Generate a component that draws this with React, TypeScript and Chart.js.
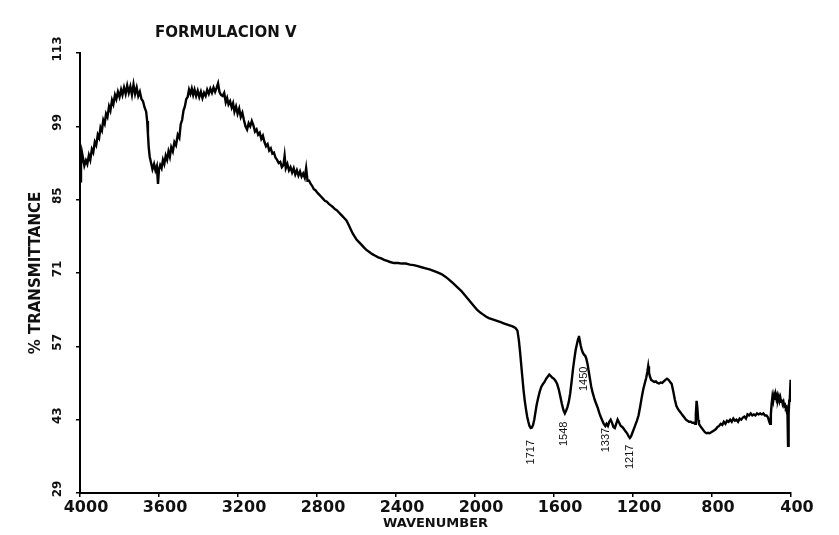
import React, { useEffect, useRef } from "react";
import { Chart, registerables } from "chart.js";

Chart.register(...registerables);

const chartTitle = "FORMULACION V";
const xAxisTitle = "WAVENUMBER";
const yAxisTitle = "% TRANSMITTANCE";

const xTickValues = [4000, 3600, 3200, 2800, 2400, 2000, 1600, 1200, 800, 400];
const yTickValues = [29, 43, 57, 71, 85, 99, 113];

const wavenumbers = [
  4000, 3995, 3990, 3985, 3978, 3970, 3963, 3955, 3948, 3940, 3933, 3925, 3918, 3910, 3903, 3896, 3889, 3882, 3875, 3868,
  3861, 3853, 3846, 3838, 3831, 3823, 3816, 3808, 3800, 3792, 3785, 3777, 3769, 3761, 3753, 3745, 3737, 3729, 3721, 3713,
  3705, 3697, 3689, 3681, 3673, 3665, 3660, 3656, 3652, 3647, 3640, 3633, 3625, 3618, 3611, 3605, 3600, 3594, 3587, 3580,
  3573, 3566, 3559, 3552, 3545, 3538, 3530, 3522, 3514, 3505, 3497, 3490, 3483, 3476, 3469, 3462, 3455, 3448, 3441, 3434,
  3427, 3420, 3412, 3404, 3396, 3388, 3380, 3372, 3364, 3356, 3348, 3340, 3332, 3324, 3316, 3308, 3301, 3294, 3286, 3278,
  3270, 3262, 3255, 3248, 3240, 3232, 3225, 3218, 3210, 3202, 3194, 3186, 3178, 3170, 3162, 3154, 3146, 3138, 3130, 3122,
  3114, 3106, 3098, 3090, 3082, 3074, 3066, 3058, 3050, 3042, 3034, 3026, 3018, 3010, 3002, 2994, 2986, 2978, 2970, 2964,
  2958, 2950, 2942, 2934, 2926, 2918, 2910, 2902, 2894, 2886, 2878, 2870, 2862, 2855, 2848, 2840, 2832, 2824, 2816, 2808,
  2800, 2790, 2780, 2770, 2760, 2750, 2740, 2730, 2720, 2710, 2700, 2690, 2680, 2670, 2660, 2650, 2640, 2630, 2620, 2610,
  2600, 2590, 2580, 2565, 2550, 2535, 2520, 2505, 2490, 2475, 2460, 2445, 2430, 2410, 2390, 2370, 2350, 2330, 2310, 2290,
  2270, 2250, 2230, 2210, 2190, 2170, 2150, 2130, 2110, 2090, 2070, 2050, 2030, 2010, 1990, 1975, 1960, 1945, 1930, 1915,
  1900, 1885, 1870, 1855, 1840, 1825, 1810, 1795, 1785, 1778, 1772, 1766, 1760, 1754, 1748, 1742, 1736, 1730, 1724, 1718,
  1712, 1706, 1700, 1694, 1688, 1680, 1672, 1664, 1656, 1648, 1640, 1632, 1624, 1616, 1608, 1600, 1592, 1584, 1576, 1568,
  1560, 1552, 1545, 1538, 1532, 1525, 1518, 1511, 1504, 1497, 1490, 1484, 1478, 1474, 1470, 1465, 1460, 1454, 1448, 1442,
  1436, 1430, 1424, 1418, 1412, 1406, 1400, 1394, 1386, 1378, 1370, 1362, 1355, 1348, 1340, 1334, 1327, 1320, 1313, 1306,
  1299, 1292, 1285, 1278, 1270, 1262, 1254, 1246, 1238, 1230, 1222, 1216, 1210, 1204, 1196, 1188, 1180, 1172, 1164, 1156,
  1148, 1140, 1133, 1127, 1123, 1119, 1114, 1108, 1100, 1092, 1084, 1076, 1068, 1060, 1052, 1044, 1036, 1028, 1020, 1012,
  1004, 996, 988, 980, 972, 964, 956, 948, 940, 932, 924, 916, 908, 900, 892, 886, 882, 878, 874, 870,
  866, 860, 852, 844, 836, 828, 820, 812, 804, 796, 788, 780, 772, 764, 756, 748, 740, 732, 724, 716,
  708, 700, 692, 684, 676, 668, 660, 652, 644, 636, 628, 620, 612, 604, 596, 588, 580, 572, 564, 556,
  548, 540, 532, 524, 516, 510, 506, 502, 498, 494, 490, 486, 482, 478, 474, 470, 466, 462, 458, 454,
  450, 446, 442, 438, 434, 430, 426, 422, 418, 415, 412, 409, 406, 402,
];

const transmittance = [
  88.5, 91.5, 94.0, 93.0, 91.5, 92.5, 91.8, 93.5, 92.6, 94.6, 94.0, 96.0, 95.4, 97.4, 96.8, 98.8, 98.2, 100.2, 99.5, 101.4,
  100.8, 102.8, 102.0, 104.0, 103.2, 105.0, 104.2, 105.6, 104.6, 106.0, 105.0, 106.4, 105.2, 106.8, 105.4, 106.6, 105.0, 107.0, 105.2, 106.4,
  104.8, 105.6, 104.2, 103.8, 102.6, 101.8, 100.0, 97.5, 95.0, 93.2, 92.0, 90.8, 91.8, 90.6, 91.4, 88.0, 90.8, 91.6, 91.0, 92.6,
  91.8, 93.4, 92.6, 94.2, 93.2, 95.0, 94.2, 96.0, 95.4, 97.4, 96.8, 99.4, 100.2, 102.0, 102.8, 104.2, 104.6, 106.0, 105.2, 106.2,
  105.0, 106.0, 104.8, 105.8, 104.6, 105.6, 104.4, 105.4, 104.8, 106.0, 105.2, 106.2, 105.4, 106.4, 105.6, 106.4, 107.2, 105.6, 105.0, 104.8,
  105.4, 103.6, 104.4, 103.2, 103.8, 102.6, 103.4, 101.8, 102.8, 101.4, 102.4, 100.8, 101.6, 100.2, 99.0, 98.4, 99.6, 99.0, 100.0, 99.2,
  98.0, 98.4, 97.4, 97.8, 96.6, 97.2, 96.0, 95.2, 95.6, 94.4, 94.8, 93.8, 94.0, 93.0, 92.6, 92.0, 92.2, 91.2, 91.6, 93.4,
  91.0, 91.8, 90.6, 91.2, 90.2, 91.0, 89.8, 90.6, 89.6, 90.4, 89.4, 90.0, 89.2, 91.0, 88.6, 88.6, 88.0, 87.6, 87.0, 86.8,
  86.4, 86.0, 85.6, 85.2, 84.8, 84.6, 84.2, 83.9, 83.6, 83.2, 83.0, 82.6, 82.2, 81.8, 81.4, 81.0, 80.2, 79.4, 78.6, 78.0,
  77.4, 77.0, 76.6, 76.0, 75.4, 75.0, 74.6, 74.3, 74.0, 73.8, 73.5, 73.3, 73.1, 72.9, 72.9, 72.8, 72.8, 72.6, 72.5, 72.3,
  72.1, 71.9, 71.7, 71.4, 71.1, 70.8, 70.3, 69.7, 69.0, 68.3, 67.6, 66.7, 65.8, 64.9, 64.0, 63.5, 63.1, 62.7, 62.4, 62.2,
  62.0, 61.8, 61.6, 61.4, 61.2, 61.0, 60.8, 60.5, 60.0, 58.2, 56.0, 53.5, 51.0, 48.6, 46.6, 45.0, 43.6, 42.6, 41.8, 41.4,
  41.5, 42.0, 43.0, 44.4, 45.8, 47.2, 48.4, 49.3, 49.8, 50.2, 50.8, 51.2, 51.6, 51.3, 51.0, 50.8, 50.4, 49.8, 48.8, 47.4,
  46.0, 44.8, 44.2, 44.8, 45.4, 46.4, 48.0, 50.2, 52.6, 54.6, 56.4, 57.4, 58.4, 59.0, 58.2, 57.2, 56.4, 55.8, 55.4, 55.2,
  54.6, 53.6, 52.2, 50.8, 49.4, 48.4, 47.6, 46.8, 46.0, 45.2, 44.2, 43.4, 42.8, 42.2, 41.8, 42.2, 41.8, 42.6, 43.0, 42.4,
  41.6, 41.4, 42.2, 43.0, 42.4, 41.8, 41.6, 41.2, 40.8, 40.4, 39.8, 39.5, 39.8, 40.4, 41.2, 42.0, 42.8, 43.8, 45.4, 47.2,
  48.8, 50.0, 51.0, 52.2, 53.2, 52.0, 51.2, 50.6, 50.4, 50.2, 50.3, 50.0, 49.9, 50.1, 50.0, 50.3, 50.6, 50.8, 50.6, 50.2,
  49.8, 48.4, 46.8, 45.6, 45.0, 44.6, 44.2, 43.8, 43.4, 43.0, 42.8, 42.6, 42.6, 42.4, 42.4, 42.2, 44.0, 46.6, 45.2, 43.0,
  42.2, 41.8, 41.4, 41.0, 40.6, 40.4, 40.5, 40.4, 40.6, 40.8, 41.0, 41.2, 41.6, 41.8, 42.2, 42.0, 42.6, 42.2, 42.8, 42.6,
  43.0, 42.6, 43.2, 42.8, 43.0, 42.6, 43.2, 43.0, 43.4, 43.6, 43.2, 44.0, 43.8, 44.2, 43.8, 44.0, 43.8, 44.2, 44.0, 44.2,
  44.0, 44.2, 43.8, 43.8, 43.4, 42.6, 42.2, 44.0, 46.0, 47.4, 46.6, 47.6, 46.8, 47.8, 47.0, 47.6, 46.8, 47.4, 46.6, 47.2,
  46.4, 46.8, 46.0, 46.4, 45.6, 45.8, 45.2, 45.4, 44.6, 38.0, 44.0, 46.6, 47.0, 50.6,
];

const peakLabels = ["1717", "1548", "1450", "1337", "1217"];
const peakLabelWavenumbers = [1717, 1548, 1450, 1337, 1217];
const peakLabelLevels = [36.8, 40.3, 50.8, 39.1, 35.9];

const boldFont = "'DejaVu Sans', sans-serif";

const overlayPlugin = {
  id: "overlayText",
  afterDraw(chart: any) {
    const ctx = chart.ctx;
    const xs = chart.scales.x;
    const ys = chart.scales.y;
    ctx.save();
    ctx.fillStyle = "#111";
    ctx.font = `bold 15px ${boldFont}`;
    ctx.textAlign = "left";
    ctx.textBaseline = "middle";
    ctx.fillText(chartTitle, 155, 33);

    ctx.font = "11px 'Liberation Sans', sans-serif";
    ctx.textAlign = "center";
    ctx.textBaseline = "middle";
    peakLabels.forEach((lab, i) => {
      const px = xs.getPixelForValue(peakLabelWavenumbers[i]);
      const py = ys.getPixelForValue(peakLabelLevels[i]);
      ctx.save();
      ctx.translate(px, py);
      ctx.rotate(-Math.PI / 2);
      ctx.fillText(lab, 0, 0);
      ctx.restore();
    });
    ctx.restore();
  },
};

export default function App() {
  const ref = useRef<HTMLCanvasElement | null>(null);

  useEffect(() => {
    if (!ref.current) return;
    const points = wavenumbers.map((w, i) => ({ x: w, y: transmittance[i] }));
    const chart = new Chart(ref.current, {
      type: "line",
      data: {
        datasets: [
          {
            data: points,
            borderColor: "#000",
            borderWidth: 2.4,
            pointRadius: 0,
            tension: 0,
            fill: false,
          },
        ],
      },
      options: {
        animation: false,
        responsive: false,
        devicePixelRatio: 1,
        layout: { padding: { top: 53, right: 48, left: 0, bottom: 0 } },
        plugins: {
          legend: { display: false },
          tooltip: { enabled: false },
          title: { display: false },
        },
        scales: {
          x: {
            type: "linear",
            reverse: true,
            min: 400,
            max: 4000,
            afterBuildTicks: (scale: any) => {
              scale.ticks = xTickValues.map((v) => ({ value: v }));
            },
            afterFit: (scale: any) => {
              scale.height = 42;
            },
            border: { display: true, color: "#000", width: 2 },
            grid: { display: true, drawOnChartArea: false, drawTicks: true, tickLength: 4, color: "#000", lineWidth: 1.5 },
            ticks: {
              color: "#111",
              font: { family: boldFont, weight: "bold", size: 16 },
              padding: 1,
              labelOffset: 6,
              maxRotation: 0,
              minRotation: 0,
              autoSkip: false,
              callback: (v: any) => String(v),
            },
            title: {
              display: true,
              text: xAxisTitle,
              color: "#111",
              font: { family: boldFont, weight: "bold", size: 13 },
              padding: { top: 0, bottom: 4 },
            },
          },
          y: {
            type: "linear",
            min: 29,
            max: 113,
            afterBuildTicks: (scale: any) => {
              scale.ticks = yTickValues.map((v) => ({ value: v }));
            },
            afterFit: (scale: any) => {
              scale.width = 80;
            },
            border: { display: true, color: "#000", width: 2 },
            grid: { display: true, drawOnChartArea: false, drawTicks: true, tickLength: 4, color: "#000", lineWidth: 1.5 },
            ticks: {
              color: "#111",
              font: { family: boldFont, weight: "bold", size: 12 },
              padding: 6,
              crossAlign: "center",
              minRotation: 90,
              maxRotation: 90,
              labelOffset: -4,
              autoSkip: false,
              callback: (v: any) => String(v),
            },
            title: {
              display: true,
              text: yAxisTitle,
              color: "#111",
              font: { family: boldFont, weight: "bold", size: 15 },
              padding: { top: 27, bottom: 0 },
            },
          },
        },
      },
      plugins: [overlayPlugin],
    } as any);
    return () => chart.destroy();
  }, []);

  return (
    <div style={{ position: "absolute", left: 0, top: 0, width: 839, height: 535, background: "#fff" }}>
      <canvas ref={ref} width={839} height={535} style={{ display: "block", width: 839, height: 535 }} />
    </div>
  );
}
